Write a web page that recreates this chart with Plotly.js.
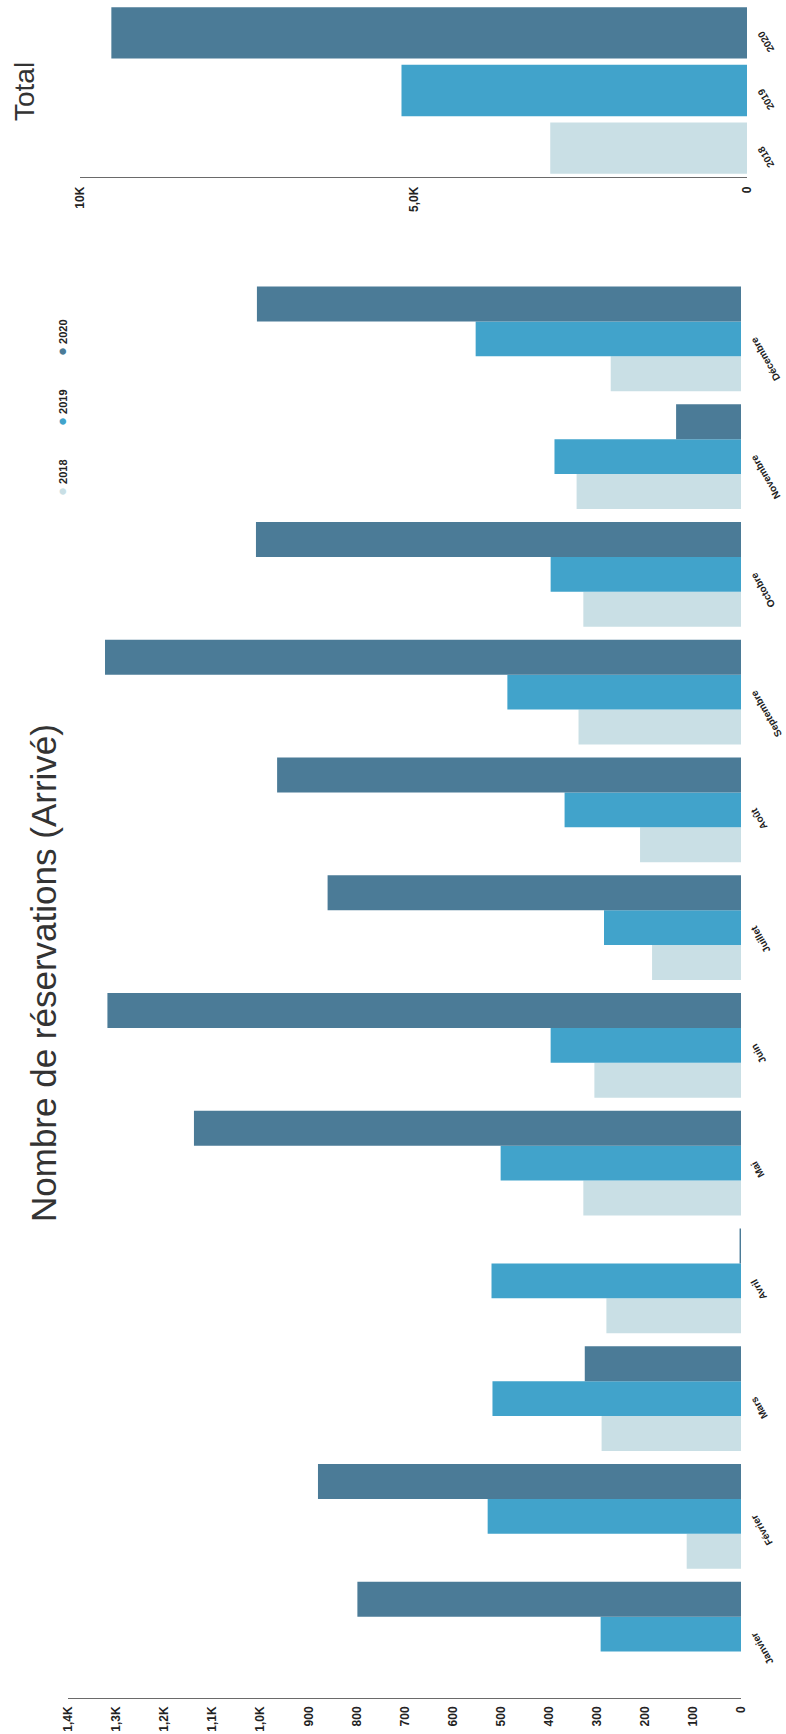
<!DOCTYPE html>
<html>
<head>
<meta charset="utf-8">
<script src="https://cdn.plot.ly/plotly-3.0.1.min.js"></script>
<style>
  html, body { margin:0; padding:0; width:786px; height:1734px; overflow:hidden; background:#ffffff; }
  #chart { position:absolute; left:0; top:0; width:1734px; height:786px;
           transform-origin:0 0; transform: translate(0px, 1734px) rotate(-90deg); }
</style>
</head>
<body>
<div id="chart"></div>
<script>
// ---- data ----
const months = ['Janvier','Février','Mars','Avril','Mai','Juin','Juillet','Août','Septembre','Octobre','Novembre','Décembre'];
const v2018 = [0, 113, 290, 280, 328, 305, 185, 210, 338, 328, 342, 271];
const v2019 = [292, 527, 517, 519, 500, 396, 285, 367, 486, 396, 388, 552];
const v2020 = [798, 880, 325, 3, 1138, 1318, 860, 965, 1323, 1009, 135, 1007];

const years = ['2018', '2019', '2020'];
const totals = [2950, 5180, 9530];

const valueTickVals = [0,100,200,300,400,500,600,700,800,900,1000,1100,1200,1300,1400];
const valueTickText = ['0','100','200','300','400','500','600','700','800','900','1,0K','1,1K','1,2K','1,3K','1,4K'];
const totalTickVals = [0, 5000, 10000];
const totalTickText = ['0', '5,0K', '10K'];

const seriesNames = ['2018', '2019', '2020'];
const colors = ['#c9dfe5', '#41a3cb', '#4b7b97'];

// ---- figure (drawn in the original landscape frame, then the page is rotated) ----
const W = 1734, H = 786;
const FONT = 'Liberation Sans, Arial, sans-serif';
const series = [v2018, v2019, v2020];

const traces = series.map((vals, i) => ({
  type: 'bar', x: months, y: vals, name: seriesNames[i],
  marker: { color: colors[i] }, xaxis: 'x', yaxis: 'y', showlegend: false
}));
traces.push({
  type: 'bar', x: years, y: totals, xaxis: 'x2', yaxis: 'y2', width: 0.89,
  marker: { color: colors }, showlegend: false
});

const px = X => X / W;
const py = Y => 1 - Y / H;

// legend drawn as annotations (dot + label), left to right in the landscape frame
const legendStartX = 1236, legendStepX = 70, legendY = 62;
const legendAnnotations = seriesNames.map((n, i) => ({
  text: '<span style="color:' + colors[i] + ';font-size:15px">●</span> ' + n,
  xref: 'paper', yref: 'paper', x: px(legendStartX + i * legendStepX), y: py(legendY),
  xanchor: 'left', yanchor: 'middle', showarrow: false,
  font: { family: FONT, size: 11, color: '#222', weight: 'bold' }
}));

const layout = {
  width: W, height: H,
  margin: { l: 0, r: 0, t: 0, b: 0 },
  paper_bgcolor: '#ffffff', plot_bgcolor: '#ffffff',
  font: { family: FONT, color: '#222' },
  barmode: 'group', bargap: 0.11, bargroupgap: 0,
  showlegend: false,
  xaxis: {
    domain: [px(41), px(1454)], type: 'category', tickangle: -30,
    tickfont: { family: FONT, size: 10, color: '#222', weight: 'bold' },
    showline: false, ticks: '', showgrid: false, zeroline: false, ticklabelstandoff: 5, fixedrange: true
  },
  yaxis: {
    domain: [py(741), py(68)], range: [0, 1400], anchor: 'free', position: px(35),
    tickvals: valueTickVals, ticktext: valueTickText,
    tickfont: { family: FONT, size: 12, color: '#222', weight: 'bold' },
    showgrid: false, zeroline: false, showline: true, linecolor: '#6a6a6a', linewidth: 1.2,
    ticks: '', ticklabelstandoff: 5, fixedrange: true
  },
  xaxis2: {
    domain: [px(1557), px(1730)], anchor: 'y2', type: 'category', tickangle: -30,
    tickfont: { family: FONT, size: 10, color: '#222', weight: 'bold' },
    showline: false, ticks: '', showgrid: false, zeroline: false, ticklabelstandoff: 6, fixedrange: true
  },
  yaxis2: {
    domain: [py(747), py(80)], anchor: 'x2', range: [0, 10000],
    tickvals: totalTickVals, ticktext: totalTickText,
    tickfont: { family: FONT, size: 12, color: '#222', weight: 'bold' },
    showgrid: false, zeroline: false, showline: true, linecolor: '#6a6a6a', linewidth: 1.2,
    ticks: '', ticklabelstandoff: 6, fixedrange: true
  },
  annotations: [
    { text: 'Nombre de réservations (Arrivé)', xref: 'paper', yref: 'paper',
      x: px(761), y: py(44), xanchor: 'center', yanchor: 'middle', showarrow: false,
      font: { family: FONT, size: 35, color: '#333' } },
    { text: 'Total', xref: 'paper', yref: 'paper',
      x: px(1642), y: py(24), xanchor: 'center', yanchor: 'middle', showarrow: false,
      font: { family: FONT, size: 28, color: '#333' } }
  ].concat(legendAnnotations)
};

Plotly.newPlot('chart', traces, layout, { staticPlot: true, displayModeBar: false });
</script>
</body>
</html>
